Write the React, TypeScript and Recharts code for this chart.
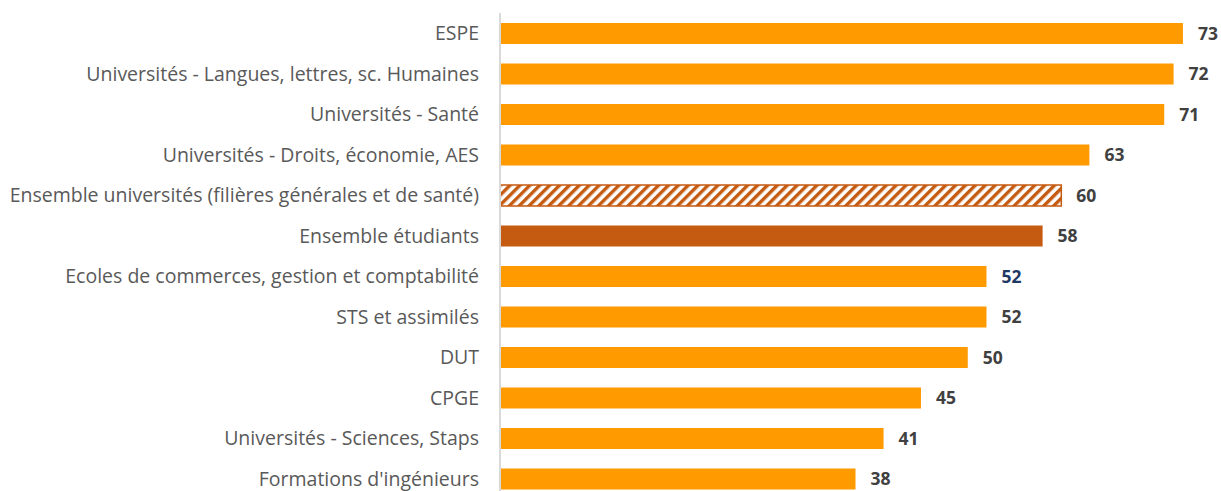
import { Bar, BarChart, Cell, LabelList, XAxis, YAxis } from 'recharts';

const categories = [
  'ESPE',
  'Universités - Langues, lettres, sc. Humaines',
  'Universités - Santé',
  'Universités - Droits, économie, AES',
  'Ensemble universités (filières générales et de santé)',
  'Ensemble étudiants',
  'Ecoles de commerces, gestion et comptabilité',
  'STS et assimilés',
  'DUT',
  'CPGE',
  'Universités - Sciences, Staps',
  "Formations d'ingénieurs",
];
const values = [73, 72, 71, 63, 60, 58, 52, 52, 50, 45, 41, 38];

const HATCHED = 'Ensemble universités (filières générales et de santé)';
const DARK = 'Ensemble étudiants';
const NAVY_LABEL = 'Ecoles de commerces, gestion et comptabilité';

const ORANGE = '#FF9A00';
const BROWN = '#C55A11';
const FONT = '"Open Sans", sans-serif';

const data = categories.map((name, i) => ({ name, value: values[i] }));

function ValueLabel(props: any) {
  const { x, y, width, height, value, index } = props;
  const name = categories[index];
  return (
    <text
      x={x + width + 15}
      y={y + height / 2}
      dy="0.37em"
      fontSize={17.5}
      fontWeight={700}
      fontFamily={FONT}
      fill={name === NAVY_LABEL ? '#1F3864' : '#404040'}
    >
      {value}
    </text>
  );
}

export default function App() {
  return (
    <div style={{ position: 'fixed', left: 0, top: 0, width: 1221, height: 491, overflow: 'hidden', background: '#fff' }}>
      <BarChart
        width={1221}
        height={500}
        data={data}
        layout="vertical"
        margin={{ top: 13, right: 10, bottom: 1, left: 0 }}
        barSize={21}
      >
        <defs>
          <pattern id="hatch" width="7" height="7" patternUnits="userSpaceOnUse" patternTransform="rotate(45)">
            <rect width="7" height="7" fill="#fff" />
            <rect width="3.4" height="7" fill={BROWN} />
          </pattern>
        </defs>
        <XAxis type="number" domain={[0, 76]} hide />
        <YAxis
          type="category"
          dataKey="name"
          width={500}
          tickLine={false}
          tickMargin={15}
          axisLine={{ stroke: '#D9D9D9', strokeWidth: 2 }}
          interval={0}
          tick={{ fontSize: 19.5, fill: '#595959', fontFamily: FONT }}
        />
        <Bar dataKey="value" isAnimationActive={false}>
          {data.map((d) => (
            <Cell
              key={d.name}
              fill={d.name === HATCHED ? 'url(#hatch)' : d.name === DARK ? BROWN : ORANGE}
              stroke={d.name === HATCHED ? BROWN : 'none'}
              strokeWidth={d.name === HATCHED ? 1.5 : 0}
            />
          ))}
          <LabelList dataKey="value" content={ValueLabel} />
        </Bar>
      </BarChart>
    </div>
  );
}
